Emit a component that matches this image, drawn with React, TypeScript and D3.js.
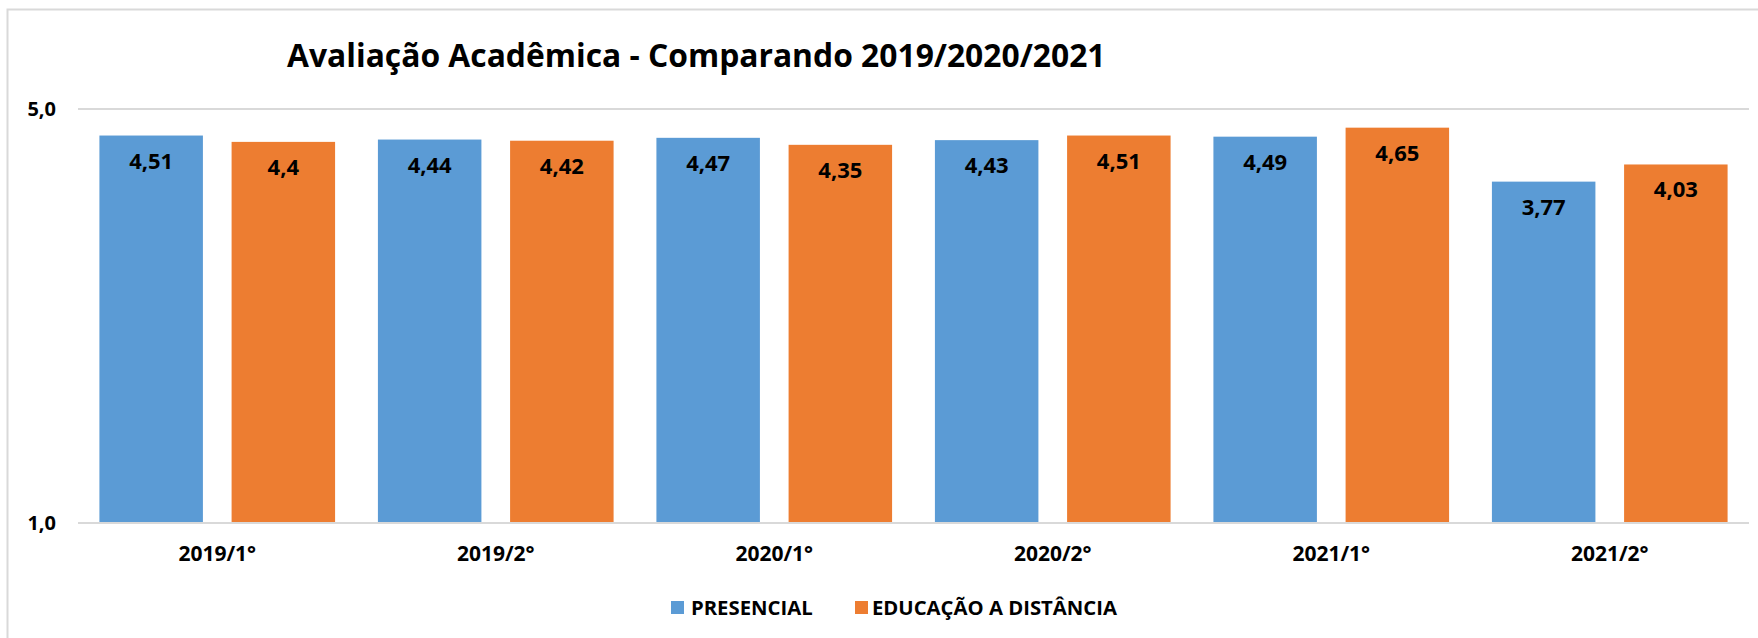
import React from "react";
import * as d3 from "d3";

const categories = ["2019/1°", "2019/2°", "2020/1°", "2020/2°", "2021/1°", "2021/2°"];
const seriesNames = ["PRESENCIAL", "EDUCAÇÃO A DISTÂNCIA"];
const presencial = [4.51, 4.44, 4.47, 4.43, 4.49, 3.77];
const distancia = [4.4, 4.42, 4.35, 4.51, 4.65, 4.03];
const yTicks = [1, 5];
const yTickLabels = ["1,0", "5,0"];
const colors = ["#5B9BD5", "#ED7D31"];
const title = "Avaliação Acadêmica - Comparando 2019/2020/2021";

const W = 1758;
const H = 638;
const FONT = "'Open Sans', 'Noto Sans', sans-serif";

export default function App() {
  const plotLeft = 78;
  const plotRight = 1749;
  const yBase = 523;
  const yTop = 109;

  const x0 = d3.scaleBand<string>().domain(categories).range([plotLeft, plotRight]).padding(0);
  const x1 = d3
    .scaleBand<string>()
    .domain(seriesNames)
    .range([0, x0.bandwidth()])
    .paddingInner(0.217)
    .paddingOuter(0.162);
  const y = d3.scaleLog().domain([1, 5]).range([yBase, yTop]);

  const series = [presencial, distancia];
  const fmt = (v: number) => String(v).replace(".", ",");

  return (
    <svg
      width={W}
      height={H}
      style={{ position: "absolute", left: 0, top: 0, background: "#fff" }}
      fontFamily={FONT}
    >
      <rect x={0} y={0} width={W} height={H} fill="#fff" />
      <rect x={7.5} y={9.5} width={W + 20} height={H + 20} fill="none" stroke="#d9d9d9" strokeWidth={2} />

      <text x={287} y={67} fontSize={31.8} fontWeight={700} fill="#000">
        {title}
      </text>

      {yTicks.map((t, i) => (
        <g key={t}>
          <line x1={plotLeft} x2={plotRight} y1={y(t)} y2={y(t)} stroke="#d9d9d9" strokeWidth={2} />
          <text x={56} y={y(t) + 7} textAnchor="end" fontSize={20} fontWeight={700} fill="#000">
            {yTickLabels[i]}
          </text>
        </g>
      ))}

      {categories.map((c, ci) => (
        <g key={c} transform={`translate(${x0(c)},0)`}>
          {seriesNames.map((s, si) => {
            const v = series[si][ci];
            const bx = x1(s) as number;
            const by = y(v);
            return (
              <g key={s}>
                <rect
                  x={bx}
                  y={by}
                  width={x1.bandwidth()}
                  height={yBase - by}
                  fill={colors[si]}
                />
                <text
                  x={bx + x1.bandwidth() / 2}
                  y={by + 33}
                  textAnchor="middle"
                  fontSize={22}
                  fontWeight={700}
                  fill="#000"
                >
                  {fmt(v)}
                </text>
              </g>
            );
          })}
          <text
            x={x0.bandwidth() / 2}
            y={561}
            textAnchor="middle"
            fontSize={21}
            fontWeight={700}
            fill="#000"
          >
            {c}
          </text>
        </g>
      ))}

      <line x1={plotLeft} x2={plotRight} y1={yBase} y2={yBase} stroke="#d9d9d9" strokeWidth={2} />

      <g>
        <rect x={671} y={601} width={13} height={13} fill={colors[0]} />
        <text x={691} y={615} fontSize={20.3} fontWeight={700} fill="#000">
          {seriesNames[0]}
        </text>
        <rect x={855} y={601} width={13} height={13} fill={colors[1]} />
        <text x={872} y={615} fontSize={20.3} fontWeight={700} fill="#000">
          {seriesNames[1]}
        </text>
      </g>
    </svg>
  );
}
